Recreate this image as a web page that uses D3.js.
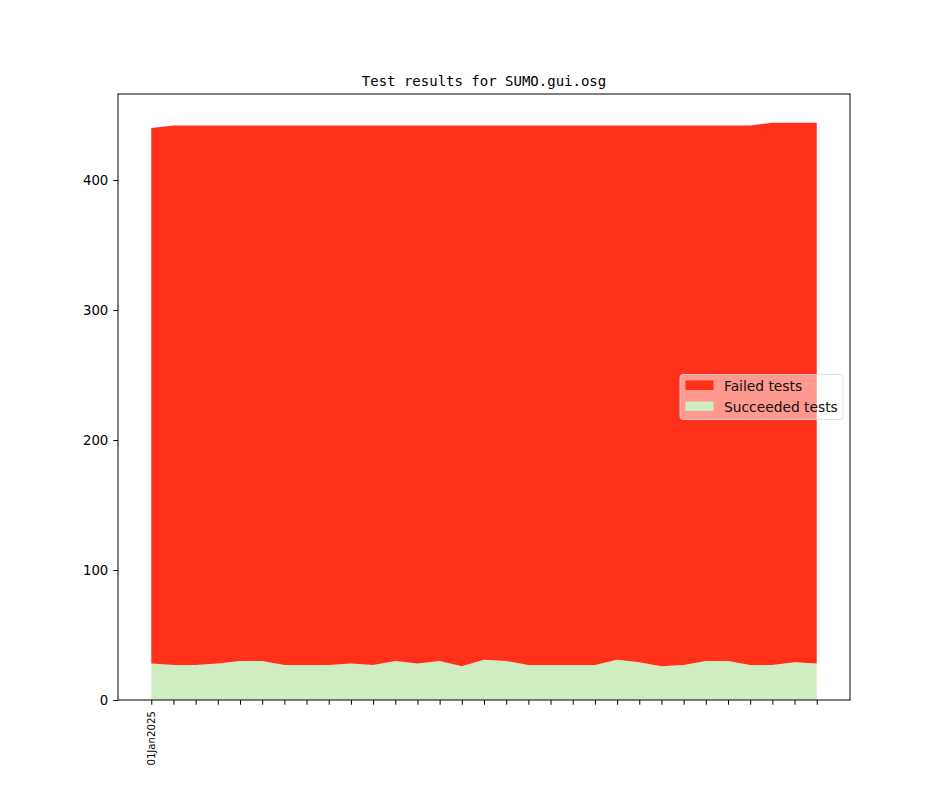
<!DOCTYPE html>
<html>
<head>
<meta charset="utf-8">
<script src="https://cdn.jsdelivr.net/npm/d3@7"></script>
<style>
  body { margin: 0; background: #fff; }
  svg { display: block; }
</style>
</head>
<body>
<div id="chart"></div>
<script>
// one entry per nightly run, only the first tick gets a label
const days = d3.range(31).map(i => new Date(2025, 0, 1 + i));
const tick_labels = days.map((d, i) => i === 0 ? "01Jan2025" : "");
const succeeded = [28, 27, 27, 28, 30, 30, 27, 27, 27, 28, 27, 30, 28, 30, 26, 31,
                   30, 27, 27, 27, 27, 31, 29, 26, 27, 30, 30, 27, 27, 29, 28];
const total = [440, 442, 442, 442, 442, 442, 442, 442, 442, 442, 442, 442, 442, 442, 442, 442,
               442, 442, 442, 442, 442, 442, 442, 442, 442, 442, 442, 442, 444, 444, 444];
const failed = total.map((t, i) => t - succeeded[i]);
const series_names = ["Failed tests", "Succeeded tests"];
const series_colors = ["#ff311a", "#cfedc0"];

const width = 944, height = 787;
const margin = { left: 118, right: 94, top: 94, bottom: 87 };
const plot_w = width - margin.left - margin.right;
const plot_h = height - margin.top - margin.bottom;

const svg = d3.select("#chart").append("svg")
  .attr("width", width)
  .attr("height", height);

const g = svg.append("g")
  .attr("transform", `translate(${margin.left},${margin.top})`);

// matplotlib style 5% padding on x
const n = days.length;
const pad = (n - 1) * 0.05;
const x = d3.scaleLinear().domain([-pad, n - 1 + pad]).range([0, plot_w]);
const y = d3.scaleLinear().domain([0, d3.max(total) * 1.05]).range([plot_h, 0]);

const rows = days.map((d, i) => ({ i: i, succeeded: succeeded[i], failed: failed[i] }));
const stack = d3.stack().keys(["succeeded", "failed"]);
const layers = stack(rows);

const area = d3.area()
  .x(d => x(d.data.i))
  .y0(d => y(d[0]))
  .y1(d => y(d[1]));

g.selectAll("path.layer")
  .data(layers)
  .join("path")
  .attr("class", "layer")
  .attr("d", area)
  .attr("fill", d => d.key === "failed" ? series_colors[0] : series_colors[1]);

// y axis
const yAxis = d3.axisLeft(y).tickValues([0, 100, 200, 300, 400]).tickSize(4.7).tickPadding(5);
const ya = g.append("g").call(yAxis);
ya.select(".domain").remove();
ya.selectAll("text")
  .style("font-family", "DejaVu Sans")
  .style("font-size", "13.3px")
  .attr("fill", "#000");
ya.selectAll("line").attr("stroke", "#000").attr("stroke-width", 1);

// x axis
const xAxis = d3.axisBottom(x).tickValues(d3.range(n)).tickSize(4.7)
  .tickFormat(i => tick_labels[i]);
const xa = g.append("g").attr("transform", `translate(0,${plot_h})`).call(xAxis);
xa.select(".domain").remove();
xa.selectAll("line").attr("stroke", "#000").attr("stroke-width", 1);
xa.selectAll("text")
  .style("font-family", "DejaVu Sans")
  .style("font-size", "10.2px")
  .attr("fill", "#000")
  .attr("text-anchor", "end")
  .attr("transform", "translate(0,11) rotate(-90)")
  .attr("x", 0)
  .attr("y", 3.5)
  .attr("dy", "0");

// frame
g.append("rect")
  .attr("width", plot_w)
  .attr("height", plot_h)
  .attr("fill", "none")
  .attr("stroke", "#000")
  .attr("stroke-width", 1);

// title
svg.append("text")
  .attr("x", margin.left + plot_w / 2)
  .attr("y", 86)
  .attr("text-anchor", "middle")
  .style("font-family", "DejaVu Sans Mono")
  .style("font-size", "14px")
  .text("Test results for SUMO.gui.osg");

// legend, center right
const leg_w = 163, leg_h = 45;
const legend = g.append("g")
  .attr("transform", `translate(${plot_w - leg_w - 7},${plot_h / 2 - leg_h / 2})`);
legend.append("rect")
  .attr("width", leg_w)
  .attr("height", leg_h)
  .attr("rx", 3)
  .attr("fill", "#fff")
  .attr("fill-opacity", 0.5)
  .attr("stroke", "#ddd")
  .attr("stroke-opacity", 0.8);

series_names.forEach((name, i) => {
  legend.append("rect")
    .attr("x", 5.5)
    .attr("y", 6 + i * 21)
    .attr("width", 28)
    .attr("height", 9.5)
    .attr("fill", series_colors[i]);
  legend.append("text")
    .attr("x", 44)
    .attr("y", 16.5 + i * 21)
    .style("font-family", "DejaVu Sans")
    .style("font-size", "13.8px")
    .attr("fill", "#111")
    .text(name);
});
</script>
</body>
</html>
